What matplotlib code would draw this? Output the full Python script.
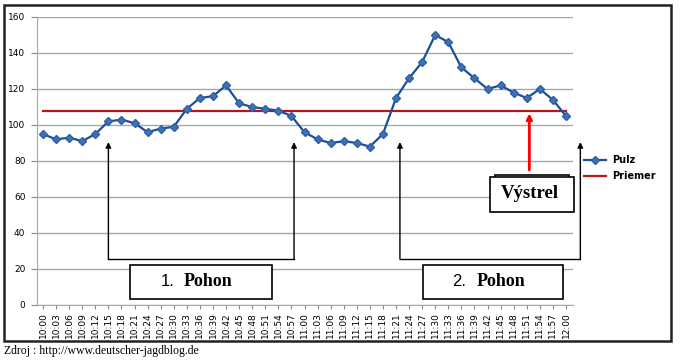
import matplotlib
matplotlib.use("Agg")
import matplotlib.pyplot as plt
from matplotlib.patches import Rectangle, FancyArrowPatch
import numpy as np

times = ["10:00","10:03","10:06","10:09","10:12","10:15","10:18","10:21","10:24","10:27",
         "10:30","10:33","10:36","10:39","10:42","10:45","10:48","10:51","10:54","10:57",
         "11:00","11:03","11:06","11:09","11:12","11:15","11:18","11:21","11:24","11:27",
         "11:30","11:33","11:36","11:39","11:42","11:45","11:48","11:51","11:54","11:57","12:00"]
pulz = [95, 92, 93, 91, 95, 102, 103, 101, 96, 98,
        99, 109, 115, 116, 122, 112, 110, 109, 108, 105,
        96, 92, 90, 91, 90, 88, 95, 115, 126, 135,
        150, 146, 132, 126, 120, 122, 118, 115, 120, 114, 105]
priemer = 108
yticks = [0, 20, 40, 60, 80, 100, 120, 140, 160]

fig = plt.figure(figsize=(6.81, 3.62), dpi=100)
ax = fig.add_axes([36.5/681, 1-305/362, (572.5-36.5)/681, (305-17)/362])

x = np.arange(len(times))
ax.plot(x, pulz, color="#1F4E99", lw=1.6, marker="D", ms=4.5,
        mfc="#3E72B8", mec="#2F5FA5", label="Pulz", zorder=3)
ax.plot(x, [priemer]*len(times), color="#B5161B", lw=1.6, label="Priemer", zorder=2)

ax.set_xlim(-0.5, len(times)-0.5)
ax.set_ylim(0, 160)
ax.set_yticks(yticks)
ax.set_xticks(x)
ax.set_xticklabels(times, rotation=90, fontsize=6.5)
ax.tick_params(axis="y", labelsize=6.5, length=4, color="#888888", pad=4)
ax.tick_params(axis="x", length=3, color="#888888", pad=2)
ax.grid(axis="y", color="#A8A8A8", lw=1)
ax.set_axisbelow(True)
for s in ["top", "right"]:
    ax.spines[s].set_visible(False)
ax.spines["left"].set_color("#A8A8A8")
ax.spines["bottom"].set_color("#A8A8A8")

leg = ax.legend(loc="upper left", bbox_to_anchor=(1.005, 0.55), frameon=False,
                fontsize=7, handlelength=2.3, labelspacing=0.6, handletextpad=0.6)
for t in leg.get_texts():
    t.set_fontweight("bold")

# bracket arrows
def up_arrow(xp, y0, y1, color="black", lw=1.0):
    a = FancyArrowPatch((xp, y0), (xp, y1), arrowstyle="-|>", mutation_scale=8,
                        color=color, lw=lw, clip_on=False, shrinkA=0, shrinkB=0, zorder=5)
    ax.add_patch(a)

ybase = 25.5
for (xa, xb) in [(5, 19.2), (27.3, 41.1)]:
    up_arrow(xa, ybase, 90.5)
    up_arrow(xb, ybase, 90.5)
    ax.plot([xa, xb], [ybase, ybase], color="black", lw=1.0, clip_on=False, zorder=5)

up_arrow(37.2, 75, 106.5, color="#FF0000", lw=2)

# text boxes (figure pixel coords)
def pxbox(x0, y0, x1, y1):
    r = Rectangle((x0/681, 1-y1/362), (x1-x0)/681, (y1-y0)/362, transform=fig.transFigure,
                  fill=True, fc="white", ec="black", lw=1.2, zorder=10)
    fig.add_artist(r)

pxbox(130, 265, 271.7, 299)
fig.text(161/681, 1-282/362, "1.", fontsize=12, ha="left", va="center", family="Liberation Sans", zorder=11)
fig.text(184/681, 1-282/362, "Pohon", fontsize=13, ha="left", va="center", family="Liberation Serif", fontweight="bold", zorder=11)
pxbox(422.7, 265, 563.3, 299)
fig.text(452/681, 1-282/362, "2.", fontsize=12, ha="left", va="center", family="Liberation Sans", zorder=11)
fig.text(477/681, 1-282/362, "Pohon", fontsize=13, ha="left", va="center", family="Liberation Serif", fontweight="bold", zorder=11)

pxbox(495, 175, 569, 180)
pxbox(490, 177.3, 574, 211.7)
fig.text(530/681, 1-194/362, "Výstrel", fontsize=13.5, ha="center", va="center", family="Liberation Serif", fontweight="bold", zorder=11)

# outer frame
frame = Rectangle((4/681, 1-341/362), (671-4)/681, (341-5)/362, transform=fig.transFigure,
                  fill=False, ec="#222222", lw=1.8, zorder=20)
fig.add_artist(frame)

fig.text(4/681, 1-351/362, "Zdroj : http://www.deutscher-jagdblog.de", fontsize=8.5,
         family="Liberation Serif", va="center", ha="left")

fig.savefig("out.png", dpi=100)
